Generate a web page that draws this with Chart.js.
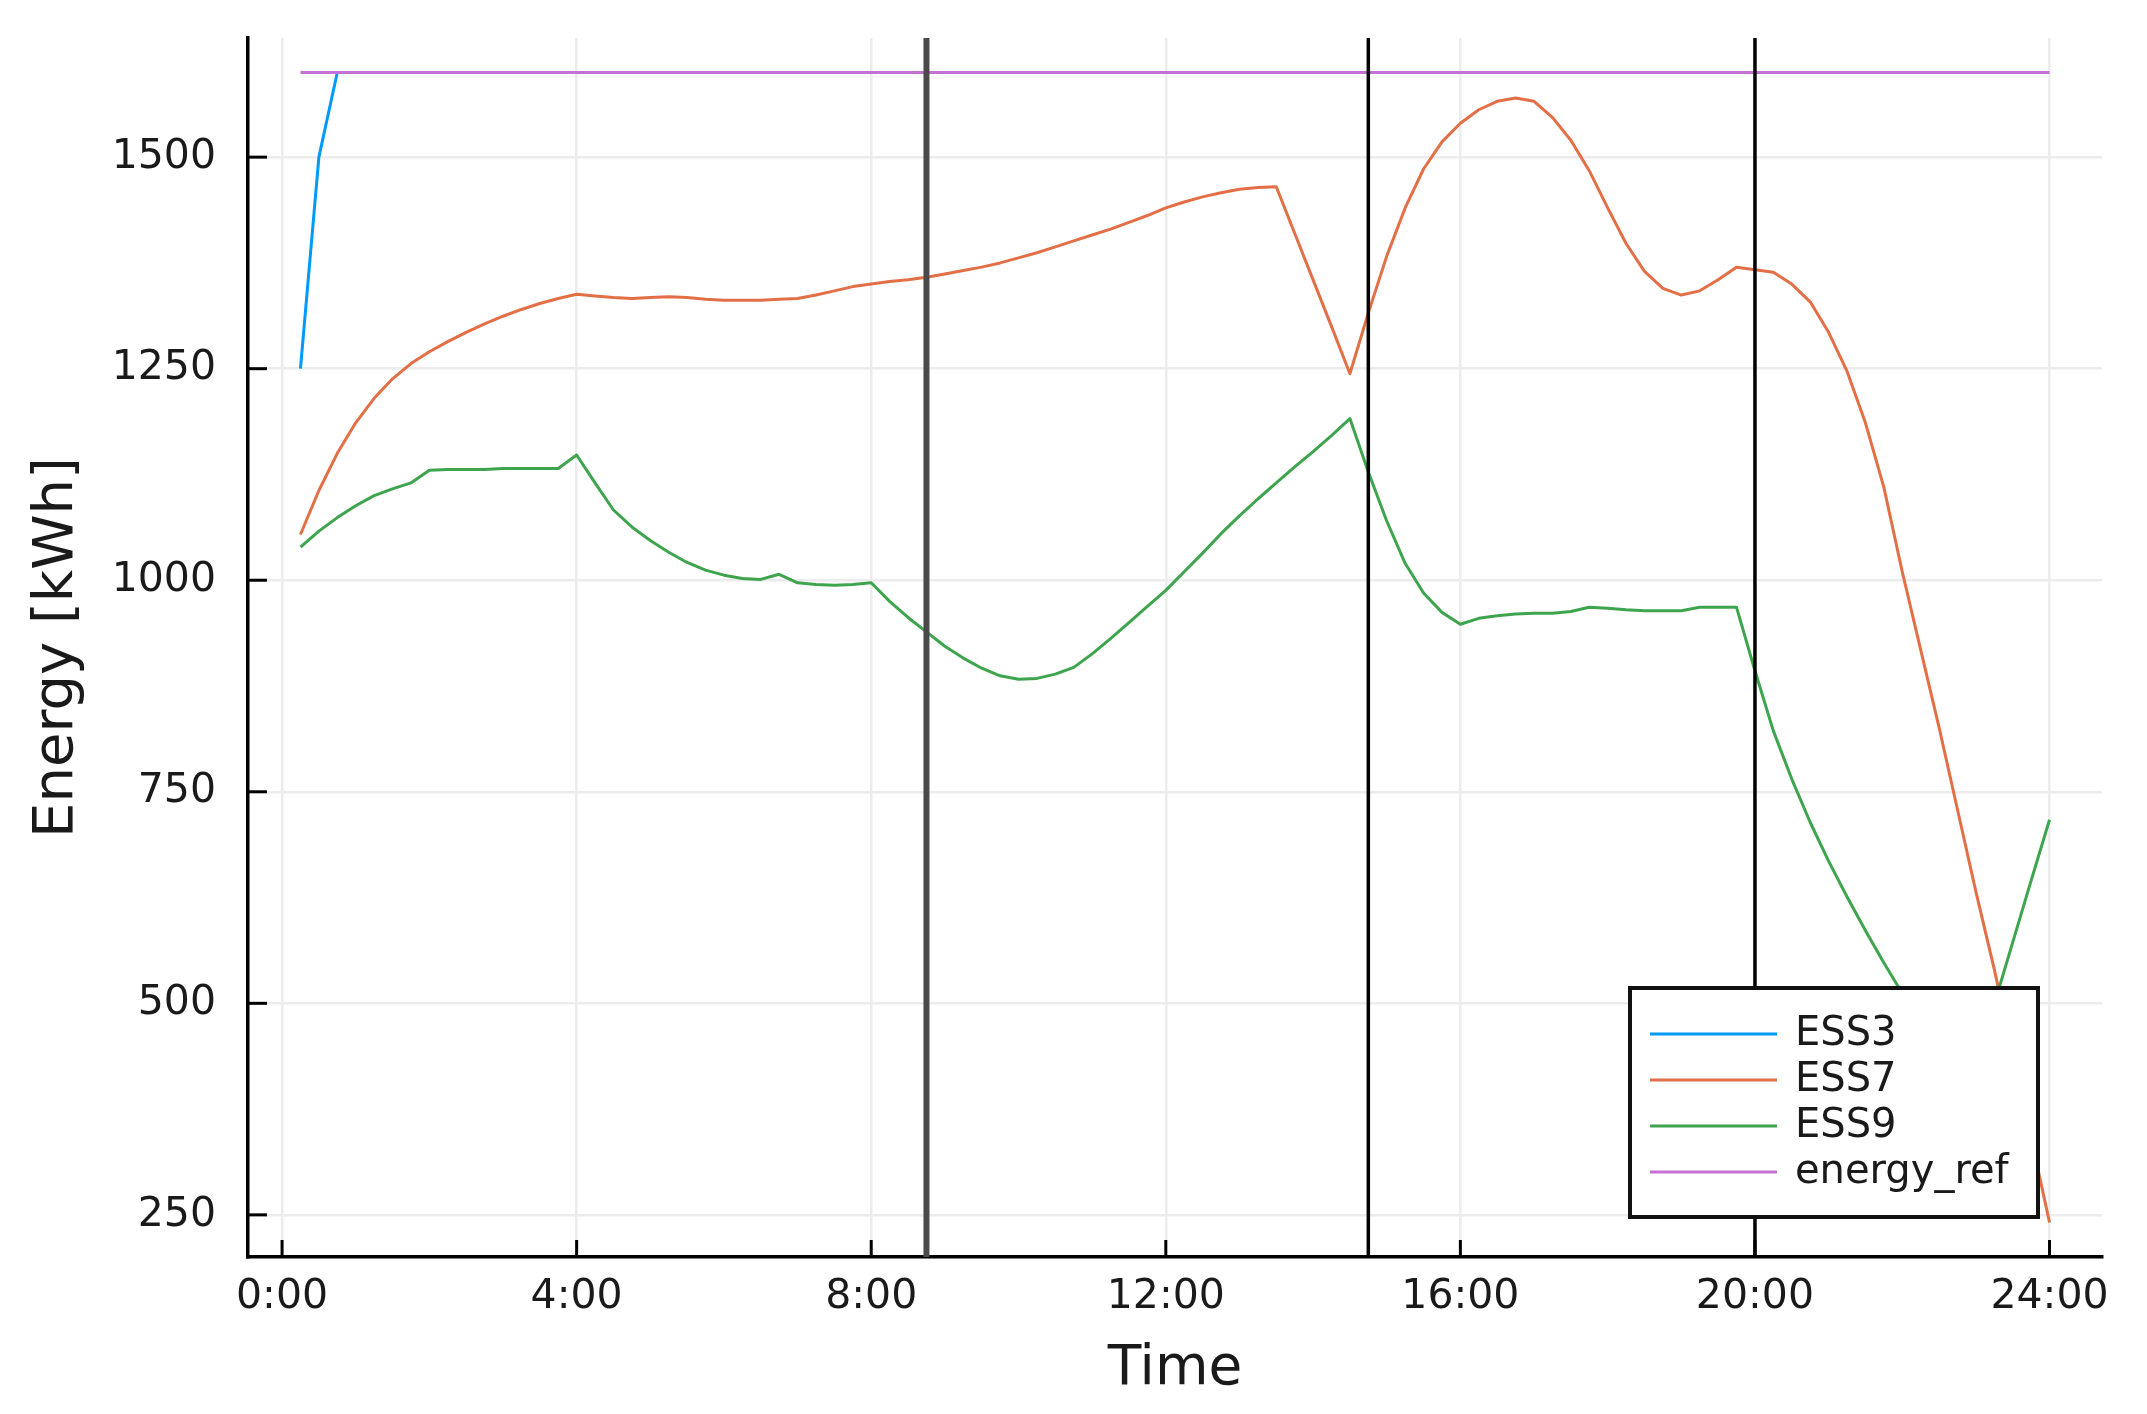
<!DOCTYPE html>
<html>
<head>
<meta charset="utf-8">
<title>ESS energy</title>
<script src="https://cdn.jsdelivr.net/npm/chart.js@4.4.0/dist/chart.umd.min.js"></script>
<style>
  html, body { margin: 0; padding: 0; background: #fff; }
  #energyChart { display: block; }
</style>
</head>
<body>
<canvas id="energyChart" width="2147" height="1414"></canvas>
<script>
// time of day in hours, one sample every 15 min
const hours = [
    0.25, 0.5, 0.75, 1,   1.25, 1.5, 1.75, 2,   2.25, 2.5, 2.75, 3,   3.25, 3.5, 3.75, 4,
    4.25, 4.5, 4.75, 5,   5.25, 5.5, 5.75, 6,   6.25, 6.5, 6.75, 7,   7.25, 7.5, 7.75, 8,
    8.25, 8.5, 8.75, 9,   9.25, 9.5, 9.75, 10,  10.25, 10.5, 10.75, 11,  11.25, 11.5, 11.75, 12,
    12.25, 12.5, 12.75, 13,  13.25, 13.5, 13.75, 14,  14.25, 14.5, 14.75, 15,  15.25, 15.5, 15.75, 16,
    16.25, 16.5, 16.75, 17,  17.25, 17.5, 17.75, 18,  18.25, 18.5, 18.75, 19,  19.25, 19.5, 19.75, 20,
    20.25, 20.5, 20.75, 21,  21.25, 21.5, 21.75, 22,  22.25, 22.5, 22.75, 23,  23.25, 23.5, 23.75, 24
];

const ess3Hours = [0.25, 0.5, 0.75];
const ess3 = [1250, 1500, 1600];

const ess7 = [
    1054, 1106, 1150, 1186,  1215, 1238, 1256, 1270,  1282, 1293, 1303, 1312,  1320, 1327, 1333, 1338,
    1336, 1334, 1333, 1334,  1335, 1334, 1332, 1331,  1331, 1331, 1332, 1333,  1337, 1342, 1347, 1350,
    1353, 1355, 1358, 1362,  1366, 1370, 1375, 1381,  1387, 1394, 1401, 1408,  1415, 1423, 1431, 1440,
    1447, 1453, 1458, 1462,  1464, 1465, 1410, 1355,  1300, 1244, 1316, 1383,  1440, 1486, 1518, 1540,
    1556, 1566, 1570, 1566,  1547, 1520, 1484, 1440,  1398, 1365, 1345, 1337,  1342, 1355, 1370, 1367,
    1364, 1350, 1329, 1293,  1247, 1186, 1110, 1010,  918, 826, 729, 632,  540, 441, 341, 241
];

const ess9 = [
    1039, 1058, 1074, 1088,  1100, 1108, 1115, 1130,  1131, 1131, 1131, 1132,  1132, 1132, 1132, 1148,
    1115, 1083, 1063, 1047,  1033, 1021, 1012, 1006,  1002, 1001, 1007, 997,  995, 994, 995, 997,
    975, 956, 939, 922,  908, 896, 887, 883,  884, 889, 897, 913,  931, 950, 969, 988,
    1010, 1032, 1055, 1076,  1096, 1115, 1134, 1152,  1171, 1191, 1128, 1070,  1020, 985, 962, 948,
    955, 958, 960, 961,  961, 963, 968, 967,  965, 964, 964, 964,  968, 968, 968, 893,
    822, 765, 714, 668,  626, 586, 548, 512,  478, 445, 412, 427,  499, 572, 645, 717
];

const refHours = [0.25, 24];
const energyRef = [1600, 1600];

const markerHours = [8.75, 14.75, 20];
const xTicks = [0, 4, 8, 12, 16, 20, 24];
const yTicks = [250, 500, 750, 1000, 1250, 1500];

const seriesNames = ['ESS3', 'ESS7', 'ESS9', 'energy_ref'];
const seriesColors = ['#009AFA', '#E36F47', '#3EA44E', '#C371D2'];

const FONT = "'DejaVu Sans', sans-serif";

function toPoints(xs, ys) {
    return xs.map((x, i) => ({ x: x, y: ys[i] }));
}

// inward tick marks, like the Plots.jl default
const innerTicks = {
    id: 'innerTicks',
    afterDraw(chart) {
        const { ctx, chartArea } = chart;
        const xs = chart.scales.x;
        const ys = chart.scales.y;
        ctx.save();
        ctx.strokeStyle = '#000';
        ctx.lineWidth = 3;
        xTicks.forEach(v => {
            const px = xs.getPixelForValue(v);
            ctx.beginPath();
            ctx.moveTo(px, chartArea.bottom);
            ctx.lineTo(px, chartArea.bottom - 17);
            ctx.stroke();
        });
        yTicks.forEach(v => {
            const py = ys.getPixelForValue(v);
            ctx.beginPath();
            ctx.moveTo(chartArea.left, py);
            ctx.lineTo(chartArea.left + 19, py);
            ctx.stroke();
        });
        ctx.restore();
    }
};

// vertical lines at the marker times
const markerLines = {
    id: 'markerLines',
    afterDatasetsDraw(chart) {
        const { ctx, chartArea } = chart;
        const xs = chart.scales.x;
        ctx.save();
        markerHours.forEach((h, i) => {
            const px = xs.getPixelForValue(h);
            ctx.strokeStyle = i === 0 ? '#4a4a4a' : '#000';
            ctx.lineWidth = i === 0 ? 6 : 3.5;
            ctx.beginPath();
            ctx.moveTo(px, chartArea.top);
            ctx.lineTo(px, chartArea.bottom);
            ctx.stroke();
        });
        ctx.restore();
    }
};

// framed legend in the lower right corner
const boxLegend = {
    id: 'boxLegend',
    afterDraw(chart) {
        const { ctx, chartArea } = chart;
        const w = 408, h = 229;
        const x = chartArea.right - 64 - w;
        const y = chartArea.bottom - 40 - h;
        ctx.save();
        ctx.fillStyle = '#fff';
        ctx.fillRect(x, y, w, h);
        ctx.strokeStyle = '#111';
        ctx.lineWidth = 4;
        ctx.strokeRect(x, y, w, h);
        ctx.font = `40px ${FONT}`;
        ctx.textBaseline = 'middle';
        ctx.textAlign = 'left';
        seriesNames.forEach((name, i) => {
            const ry = y + 46 + i * 46;
            ctx.strokeStyle = seriesColors[i];
            ctx.lineWidth = 3;
            ctx.beginPath();
            ctx.moveTo(x + 20, ry);
            ctx.lineTo(x + 147, ry);
            ctx.stroke();
            ctx.fillStyle = '#1a1a1a';
            ctx.fillText(name, x + 165, ry + 1);
        });
        ctx.restore();
    }
};

const ctx = document.getElementById('energyChart').getContext('2d');
new Chart(ctx, {
    type: 'line',
    data: {
        datasets: [
            { label: seriesNames[0], data: toPoints(ess3Hours, ess3), borderColor: seriesColors[0], order: 3 },
            { label: seriesNames[1], data: toPoints(hours, ess7), borderColor: seriesColors[1], order: 2 },
            { label: seriesNames[2], data: toPoints(hours, ess9), borderColor: seriesColors[2], order: 1 },
            { label: seriesNames[3], data: toPoints(refHours, energyRef), borderColor: seriesColors[3], order: 0 }
        ]
    },
    options: {
        responsive: false,
        animation: false,
        devicePixelRatio: 1,
        layout: { padding: { left: 0, top: 38, right: 45, bottom: 0 } },
        elements: {
            line: { borderWidth: 3, tension: 0, fill: false, borderJoinStyle: 'round' },
            point: { radius: 0 }
        },
        plugins: {
            legend: { display: false },
            tooltip: { enabled: false }
        },
        scales: {
            x: {
                type: 'linear',
                min: -0.4625,
                max: 24.7125,
                afterBuildTicks: (scale) => { scale.ticks = xTicks.map(v => ({ value: v })); },
                afterFit: (scale) => {
                    scale.height = 157;
                    scale.paddingLeft = 0;
                    scale.paddingRight = 0;
                },
                ticks: {
                    autoSkip: false,
                    maxRotation: 0,
                    padding: 16,
                    color: '#1a1a1a',
                    font: { family: FONT, size: 41 },
                    callback: (v) => `${v}:00`
                },
                grid: { color: '#ececec', lineWidth: 2.5, drawTicks: false },
                border: { display: true, color: '#000', width: 3.5 },
                title: {
                    display: true,
                    text: 'Time',
                    color: '#1a1a1a',
                    font: { family: FONT, size: 55 },
                    padding: { top: 0, bottom: 11 }
                }
            },
            y: {
                type: 'linear',
                min: 200.2,
                max: 1640.8,
                afterBuildTicks: (scale) => { scale.ticks = yTicks.map(v => ({ value: v })); },
                afterFit: (scale) => {
                    scale.width = 248;
                    scale.paddingTop = 0;
                    scale.paddingBottom = 0;
                },
                ticks: {
                    padding: 32,
                    color: '#1a1a1a',
                    font: { family: FONT, size: 41 },
                    callback: (v) => String(v)
                },
                grid: { color: '#ececec', lineWidth: 2.5, drawTicks: false },
                border: { display: true, color: '#000', width: 3.5 },
                title: {
                    display: true,
                    text: 'Energy [kWh]',
                    color: '#1a1a1a',
                    font: { family: FONT, size: 56 },
                    padding: { top: 24, bottom: 0 }
                }
            }
        }
    },
    plugins: [markerLines, innerTicks, boxLegend]
});
</script>
</body>
</html>
